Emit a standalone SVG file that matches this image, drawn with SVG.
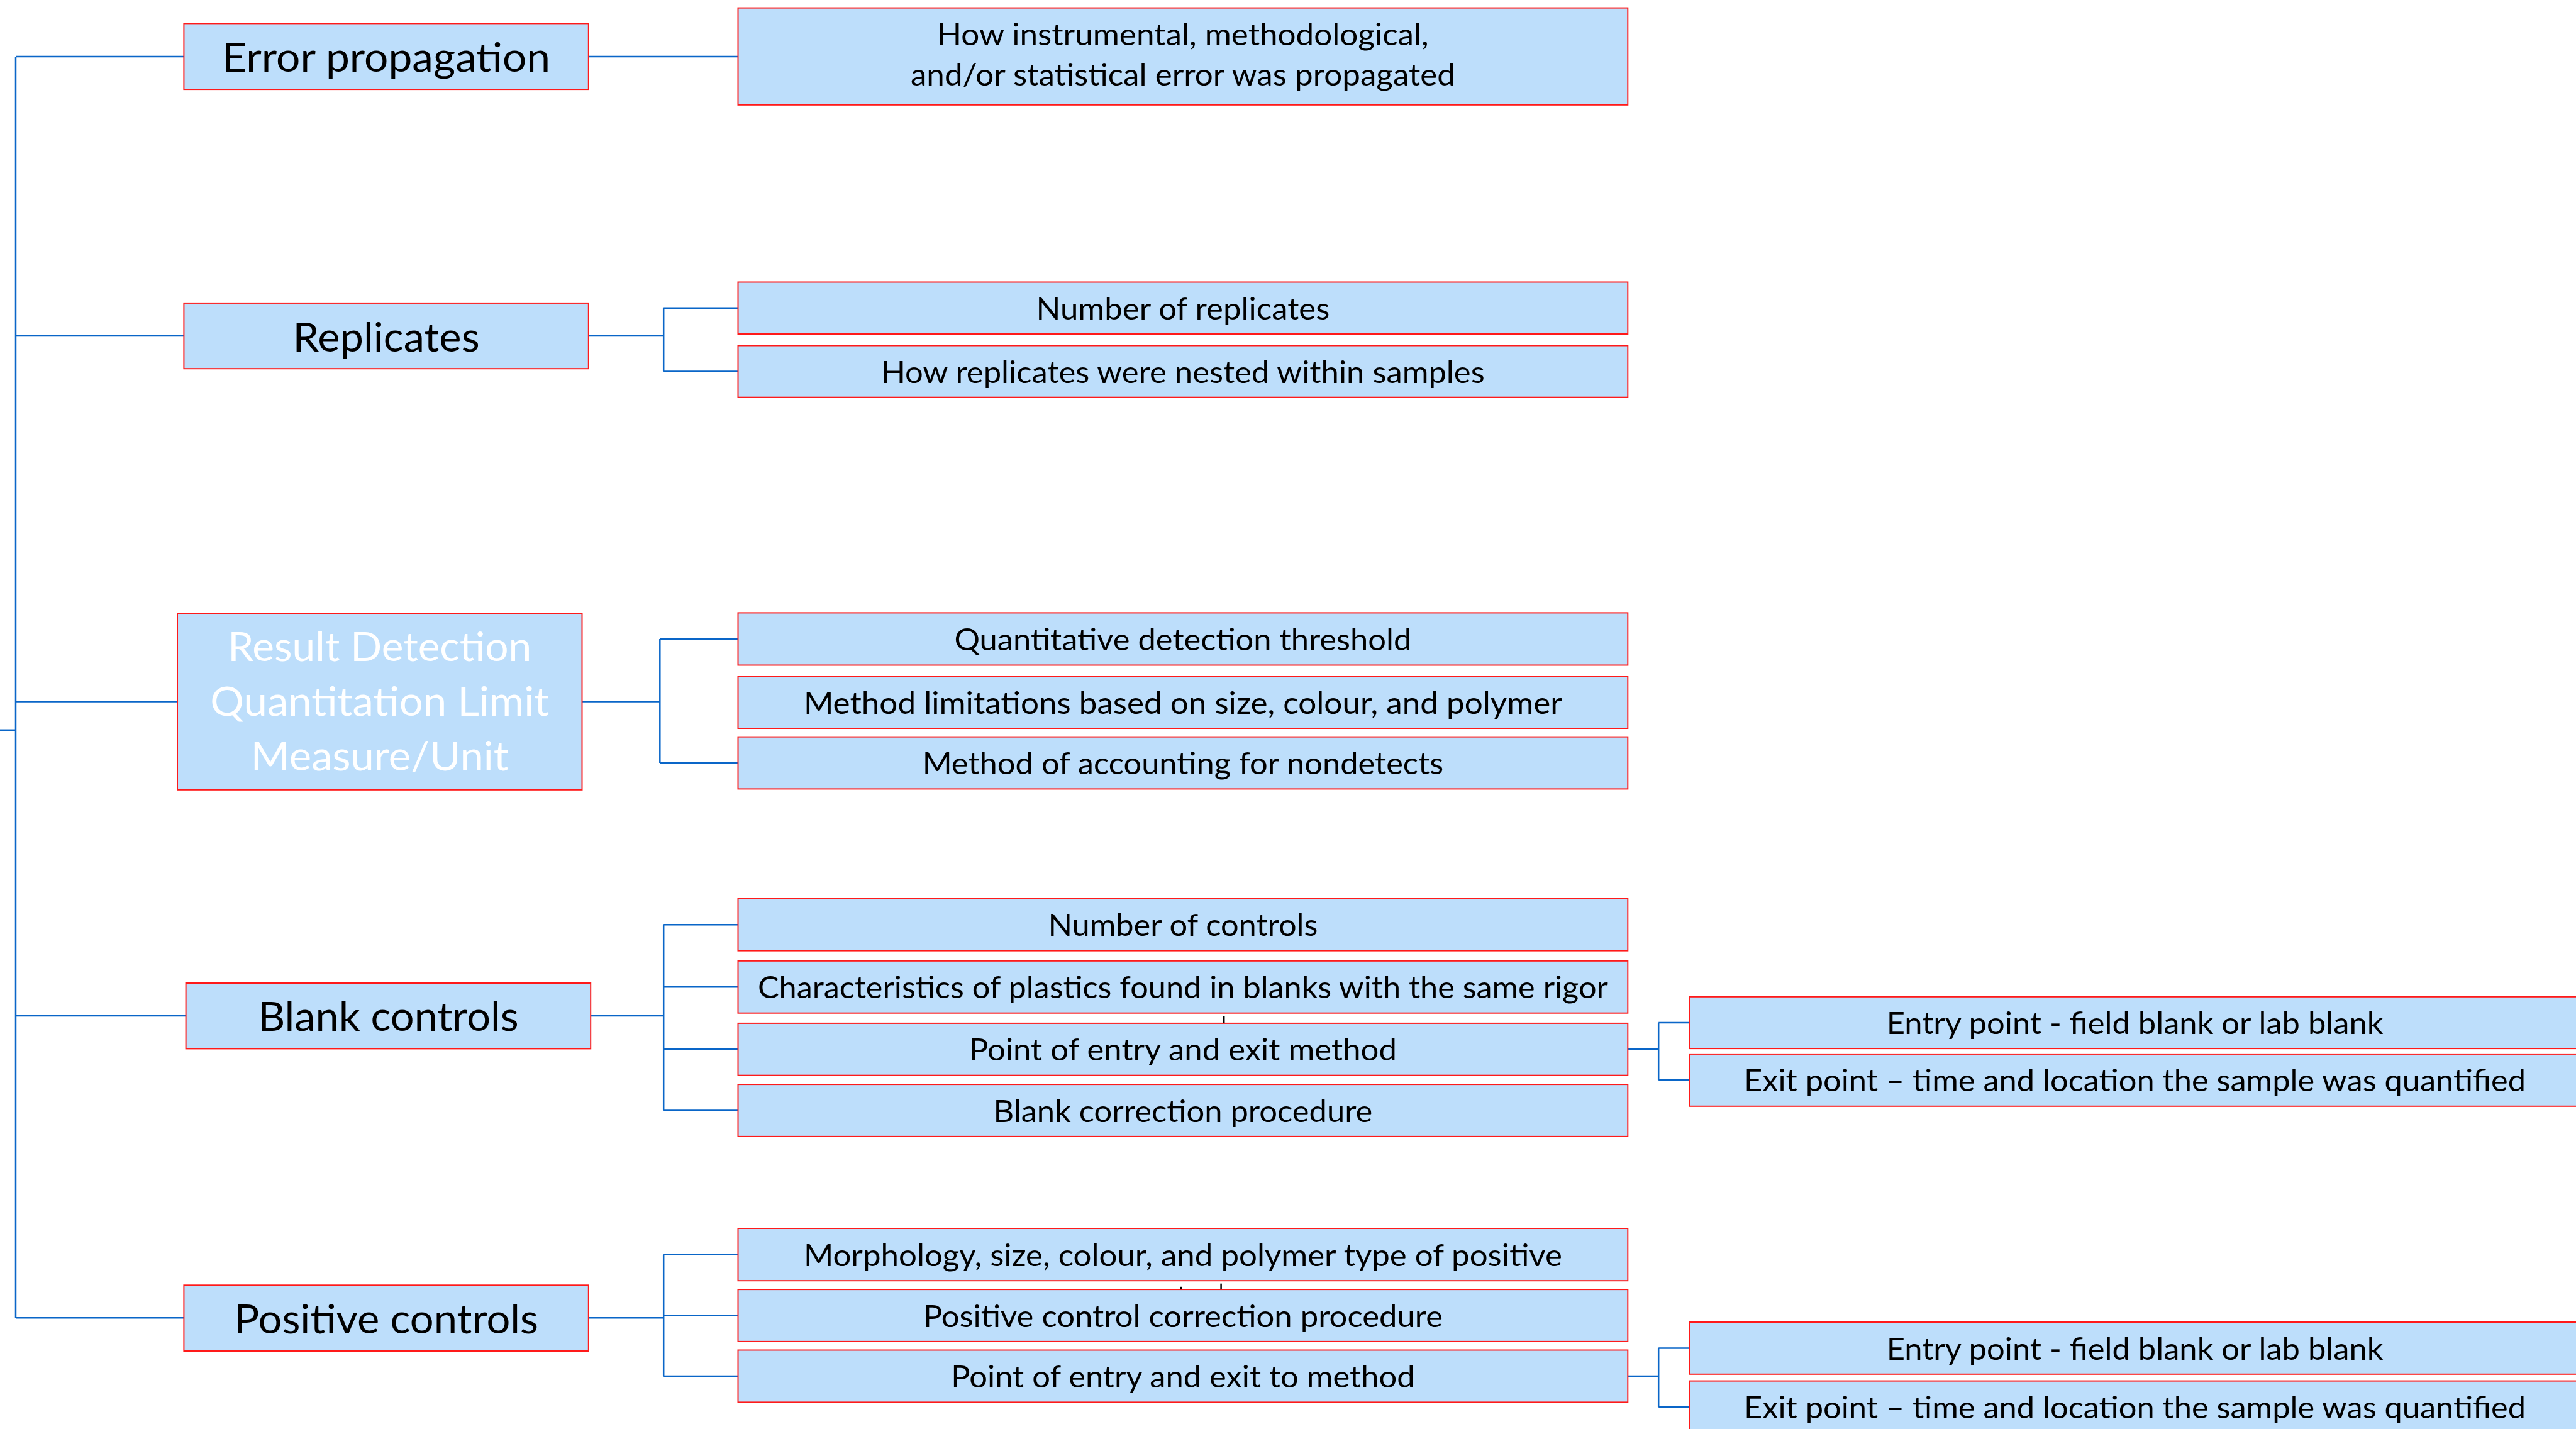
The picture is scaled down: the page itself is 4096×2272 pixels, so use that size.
<svg xmlns="http://www.w3.org/2000/svg" width="4096" height="2272" viewBox="0 0 4096 2272">
  <style>
    .box { fill: #BDDEFB; stroke: #FF1A1A; stroke-width: 2; }
    .wire { fill: none; stroke: #0A66C8; stroke-width: 2.5; stroke-linejoin: miter; }
    .t1 { font-family: Lato, "Open Sans", sans-serif; font-size: 64px; fill: #000; text-anchor: middle; }
    .t1w { font-family: Lato, "Open Sans", sans-serif; font-size: 64px; fill: #FFFFFF; text-anchor: middle; }
    .t2 { font-family: Lato, "Open Sans", sans-serif; font-size: 48.5px; fill: #000; text-anchor: middle; }
    .mark { stroke: #000; stroke-width: 2.5; }
  </style>
  <rect width="4096" height="2272" fill="#FFFFFF"/>

  <!-- connectors -->
  <g id="connectors">
    <!-- root trunk and stub -->
    <path class="wire" d="M25 90 V2095.3"/>
    <path class="wire" d="M0 1160.8 H25"/>
    <path class="wire" d="M25 90 H292.4 M25 534 H292.4 M25 1115.4 H282 M25 1615 H295.6 M25 2095.3 H292.4"/>
    <!-- error propagation -->
    <path class="wire" d="M935.8 90 H1173.5"/>
    <!-- replicates -->
    <path class="wire" d="M935.8 534 H1055.2 M1055.2 489.7 V590.6 M1055.2 489.7 H1173.5 M1055.2 590.6 H1173.5"/>
    <!-- result detection -->
    <path class="wire" d="M925.5 1115.4 H1049.3 M1049.3 1016 V1213 M1049.3 1016 H1173.5 M1049.3 1213 H1173.5"/>
    <!-- blank controls -->
    <path class="wire" d="M939.2 1615 H1055.2 M1055.2 1470.2 V1765.5 M1055.2 1470.2 H1173.5 M1055.2 1569.3 H1173.5 M1055.2 1668.3 H1173.5 M1055.2 1765.5 H1173.5"/>
    <!-- positive controls -->
    <path class="wire" d="M935.8 2095.3 H1055.2 M1055.2 1994.6 V2188 M1055.2 1994.6 H1173.5 M1055.2 2091.5 H1173.5 M1055.2 2188 H1173.5"/>
    <!-- entry / exit branches -->
    <path class="wire" d="M2588.3 1668.3 H2637.2 M2637.2 1626 V1717.3 M2637.2 1626 H2686.6 M2637.2 1717.3 H2686.6"/>
    <path class="wire" d="M2588.3 2188 H2637.2 M2637.2 2143.4 V2237 M2637.2 2143.4 H2686.6 M2637.2 2237 H2686.6"/>
  </g>

  <!-- level 1 -->
  <g id="error-propagation">
    <rect class="box" x="292.4" y="37.4" width="643.4" height="104.7"/>
    <text class="t1" x="614.1" y="114" textLength="522" lengthAdjust="spacingAndGlyphs">Error propagation</text>
  </g>
  <g id="replicates">
    <rect class="box" x="292.4" y="481.9" width="643.4" height="104.3"/>
    <text class="t1" x="614.1" y="558.6" textLength="297" lengthAdjust="spacingAndGlyphs">Replicates</text>
  </g>
  <g id="result-detection">
    <rect class="box" x="282" y="975" width="643.5" height="280.8"/>
    <text class="t1w" x="603.8" y="1051" textLength="483" lengthAdjust="spacingAndGlyphs">Result Detection</text>
    <text class="t1w" x="603.8" y="1138" textLength="539" lengthAdjust="spacingAndGlyphs">Quantitation Limit</text>
    <text class="t1w" x="603.8" y="1225.4" textLength="410" lengthAdjust="spacingAndGlyphs">Measure/Unit</text>
  </g>
  <g id="blank-controls">
    <rect class="box" x="295.6" y="1563" width="643.6" height="104.4"/>
    <text class="t1" x="617.4" y="1638.8" textLength="414.5" lengthAdjust="spacingAndGlyphs">Blank controls</text>
  </g>
  <g id="positive-controls">
    <rect class="box" x="292.4" y="2043.3" width="643.4" height="104.7"/>
    <text class="t1" x="614.1" y="2119.6" textLength="483.8" lengthAdjust="spacingAndGlyphs">Positive controls</text>
  </g>

  <!-- level 2 -->
  <g id="error-how">
    <rect class="box" x="1173.5" y="12.6" width="1414.8" height="154.2"/>
    <text class="t2" x="1880.9" y="72.4" textLength="781.7" lengthAdjust="spacingAndGlyphs">How instrumental, methodological,</text>
    <text class="t2" x="1880.9" y="136.3" textLength="865.9" lengthAdjust="spacingAndGlyphs">and/or statistical error was propagated</text>
  </g>
  <g id="rep-number">
    <rect class="box" x="1173.5" y="448.5" width="1414.8" height="82.5"/>
    <text class="t2" x="1880.9" y="507.8" textLength="466.8" lengthAdjust="spacingAndGlyphs">Number of replicates</text>
  </g>
  <g id="rep-nested">
    <rect class="box" x="1173.5" y="549.5" width="1414.8" height="82.2"/>
    <text class="t2" x="1880.9" y="608.7" textLength="959.5" lengthAdjust="spacingAndGlyphs">How replicates were nested within samples</text>
  </g>
  <g id="res-threshold">
    <rect class="box" x="1173.5" y="974.4" width="1414.8" height="83.1"/>
    <text class="t2" x="1880.9" y="1034.1" textLength="727" lengthAdjust="spacingAndGlyphs">Quantitative detection threshold</text>
  </g>
  <g id="res-limitations">
    <rect class="box" x="1173.5" y="1075.4" width="1414.8" height="82.6"/>
    <text class="t2" x="1880.9" y="1134.8" textLength="1206" lengthAdjust="spacingAndGlyphs">Method limitations based on size, colour, and polymer</text>
  </g>
  <g id="res-nondetects">
    <rect class="box" x="1173.5" y="1171.6" width="1414.8" height="82.8"/>
    <text class="t2" x="1880.9" y="1231.1" textLength="828.5" lengthAdjust="spacingAndGlyphs">Method of accounting for nondetects</text>
  </g>
  <g id="blank-number">
    <rect class="box" x="1173.5" y="1428.8" width="1414.8" height="82.8"/>
    <text class="t2" x="1880.9" y="1488.3" textLength="429" lengthAdjust="spacingAndGlyphs">Number of controls</text>
  </g>
  <g id="blank-characteristics">
    <rect class="box" x="1173.5" y="1527.8" width="1414.8" height="82.9"/>
    <text class="t2" x="1880.9" y="1587.4" textLength="1352" lengthAdjust="spacingAndGlyphs">Characteristics of plastics found in blanks with the same rigor</text>
  </g>
  <g id="blank-entry-exit">
    <rect class="box" x="1173.5" y="1626.9" width="1414.8" height="82.8"/>
    <text class="t2" x="1880.9" y="1686.4" textLength="680" lengthAdjust="spacingAndGlyphs">Point of entry and exit method</text>
  </g>
  <g id="blank-correction">
    <rect class="box" x="1173.5" y="1724.1" width="1414.8" height="82.8"/>
    <text class="t2" x="1880.9" y="1783.6" textLength="603" lengthAdjust="spacingAndGlyphs">Blank correction procedure</text>
  </g>
  <g id="pos-morphology">
    <rect class="box" x="1173.5" y="1953" width="1414.8" height="83.2"/>
    <text class="t2" x="1880.9" y="2012.7" textLength="1206" lengthAdjust="spacingAndGlyphs">Morphology, size, colour, and polymer type of positive</text>
  </g>
  <g id="pos-correction">
    <rect class="box" x="1173.5" y="2050.1" width="1414.8" height="82.8"/>
    <text class="t2" x="1880.9" y="2109.6" textLength="826.5" lengthAdjust="spacingAndGlyphs">Positive control correction procedure</text>
  </g>
  <g id="pos-entry-exit">
    <rect class="box" x="1173.5" y="2146.5" width="1414.8" height="82.9"/>
    <text class="t2" x="1880.9" y="2206.1" textLength="737.4" lengthAdjust="spacingAndGlyphs">Point of entry and exit to method</text>
  </g>

  <!-- level 3 -->
  <g id="blank-entry-point">
    <rect class="box" x="2686.6" y="1584.8" width="1414.8" height="82.3"/>
    <text class="t2" x="3394.6" y="1644.1" textLength="789.8" lengthAdjust="spacingAndGlyphs">Entry point - field blank or lab blank</text>
  </g>
  <g id="blank-exit-point">
    <rect class="box" x="2686.6" y="1675.9" width="1414.8" height="82.9"/>
    <text class="t2" x="3394.6" y="1735.4" textLength="1243" lengthAdjust="spacingAndGlyphs">Exit point – time and location the sample was quantified</text>
  </g>
  <g id="pos-entry-point">
    <rect class="box" x="2686.6" y="2102" width="1414.8" height="82.8"/>
    <text class="t2" x="3394.6" y="2161.5" textLength="789.8" lengthAdjust="spacingAndGlyphs">Entry point - field blank or lab blank</text>
  </g>
  <g id="pos-exit-point">
    <rect class="box" x="2686.6" y="2195.6" width="1414.8" height="82.8"/>
    <text class="t2" x="3394.6" y="2255.1" textLength="1243" lengthAdjust="spacingAndGlyphs">Exit point – time and location the sample was quantified</text>
  </g>

  <!-- stray glyph strokes peeking out between boxes -->
  <g id="overflow-marks">
    <line class="mark" x1="1946.2" y1="1615.2" x2="1946.2" y2="1626.9"/>
    <line class="mark" x1="1878.2" y1="2045.8" x2="1878.2" y2="2050.1"/>
    <line class="mark" x1="1941.6" y1="2040.7" x2="1941.6" y2="2050.1"/>
  </g>
</svg>
